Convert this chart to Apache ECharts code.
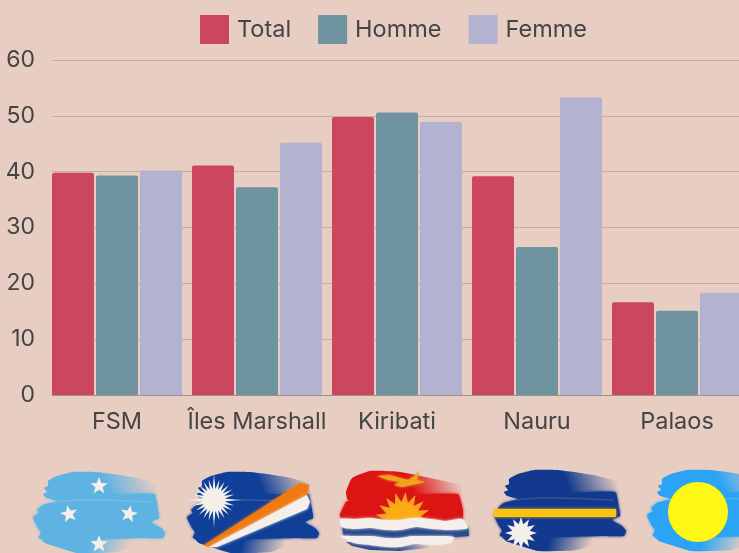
<!DOCTYPE html>
<html>
<head>
<meta charset="utf-8">
<script src="https://cdn.jsdelivr.net/npm/echarts@6/dist/echarts.min.js"></script>
<style>
  html, body { margin: 0; padding: 0; background: #e7cdc2; overflow: hidden; }
  #chart { width: 739px; height: 553px; }
</style>
</head>
<body>
<div id="chart"></div>
<script>
const categories = ['FSM', 'Îles Marshall', 'Kiribati', 'Nauru', 'Palaos']
const total = [39.8, 41.1, 49.8, 39.2, 16.6]
const homme = [39.3, 37.2, 50.6, 26.5, 15.1]
const femme = [40.2, 45.2, 48.9, 53.3, 18.3]
const yTicks = { min: 0, max: 60, interval: 10 }

const textColor = '#454545'
const fontFamily = 'Inter, "Noto Sans", sans-serif'

// pinceau commun aux drapeaux : trois bandes
const brushTop = [[13, 26], [10, 22], [14, 20], [11, 16], [15, 14], [15, 9], [24, 4], [40, 0], [62, 0], [80, 2], [104, 6], [124, 12], [122, 16], [125, 24], [40, 32]]
const brushMid = [[0, 45], [6, 41], [4, 38], [10, 33], [24, 29], [60, 24], [121, 22], [125, 38], [126, 46], [118, 50], [128, 56], [132, 61], [130, 66], [108, 66], [30, 68], [6, 66], [8, 60], [5, 56], [3, 52]]
const brushBot = [[6, 64], [112, 63], [108, 70], [84, 80], [44, 81], [24, 75], [12, 71]]

const fade = (color, x, y, x2, y2) => ({
  type: 'linear', x, y, x2, y2,
  colorStops: [{ offset: 0, color }, { offset: 0.45, color }, { offset: 1, color: color + '00' }]
})

const poly = (points, fill, smooth) => ({
  type: 'polygon',
  shape: { points, smooth: smooth || 0 },
  style: { fill, shadowBlur: 3, shadowColor: fill.length === 7 ? fill : 'transparent' }
})

const brush = (color) => [
  poly(brushTop, fade(color, 0.25, 1, 0.95, 0), 0.15),
  poly(brushMid, color, 0.15),
  poly(brushBot, fade(color, 0.15, 0, 0.85, 1), 0.15),
  { type: 'polyline', shape: { points: [[12, 31], [50, 28], [120, 30]], smooth: 0.4 }, style: { stroke: 'rgba(255,255,255,0.14)', lineWidth: 1.5, fill: null } }
]

const star = (cx, cy, n, r1, r2, fill, rot) => {
  const pts = []
  for (let i = 0; i < n * 2; i++) {
    const a = (rot || 0) - Math.PI / 2 + (i * Math.PI) / n
    const r = i % 2 ? r2 : r1
    pts.push([cx + r * Math.cos(a), cy + r * Math.sin(a)])
  }
  return { type: 'polygon', shape: { points: pts }, style: { fill } }
}

const white = '#f5efec'

const fsmFlag = [
  ...brush('#5fb3e3'),
  star(66, 14, 5, 9, 3.8, white),
  star(36, 42, 5, 9, 3.8, white, -0.2),
  star(96, 42, 5, 9, 3.8, white, 0.2),
  star(66, 72, 5, 9, 3.8, white)
]

const marshallFlag = [
  ...brush('#103f97'),
  poly([[17, 73], [113, 11], [122, 13], [120, 23], [22, 75]], '#ef7a12'),
  poly([[22, 75], [120, 23], [123, 30], [120, 37], [30, 75]], white),
  star(27, 28, 24, 21, 11, white),
  star(27, 28, 4, 28, 2, white),
  { type: 'circle', shape: { cx: 27, cy: 28, r: 11 }, style: { fill: white } }
]

const kiribatiFlag = [
  poly([[6, 22], [12, 8], [30, 1], [60, 2], [90, 8], [122, 16], [120, 30], [8, 30]], fade('#dd1414', 0.25, 1, 0.95, 0), 0.15),
  poly([[0, 45], [6, 32], [20, 26], [118, 24], [123, 40], [122, 52], [3, 52]], '#dd1414', 0.1),
  star(63, 50, 17, 28, 18, '#f3a31c', Math.PI / 2),
  { type: 'circle', shape: { cx: 63, cy: 50, r: 17 }, style: { fill: '#fbab14' } },
  poly([[2, 56], [128, 56], [129, 66], [100, 68], [20, 70], [4, 68]], '#2a4a8c'),
  poly([[6, 72], [100, 70], [88, 78], [60, 81], [30, 80], [12, 76]], fade('#2a4a8c', 0.3, 0, 0.9, 1)),
  poly([[0, 49], [14, 49], [30, 48], [46, 50], [60, 50], [74, 48], [92, 49], [106, 51], [122, 49], [128, 58], [110, 60], [92, 59], [76, 57], [60, 60], [46, 60], [30, 58], [14, 59], [2, 57]], white, 0.2),
  poly([[0, 66], [16, 66], [32, 66], [46, 68], [60, 68], [72, 66], [88, 66], [102, 66], [114, 67], [110, 73], [92, 75], [74, 74], [60, 77], [46, 77], [30, 75], [14, 73]], white, 0.2),
  poly([[37, 6], [50, 5], [60, 8], [68, 10], [76, 5], [79, 1], [77, 10], [85, 12], [72, 15], [62, 17], [54, 15], [60, 12], [48, 10]], '#eea21e')
]

const nauruFlag = [
  ...brush('#12398e'),
  poly([[0, 39], [122, 39], [122, 47], [0, 47]], '#fdc111'),
  star(27, 63, 12, 16, 9, white)
]

const palauFlag = [
  ...brush('#2ba4f5'),
  { type: 'circle', shape: { cx: 51, cy: 42, r: 30 }, style: { fill: '#fff714' } }
]

const flag = (x, y, children) => ({ type: 'group', x, y, silent: true, children })

const chart = echarts.init(document.getElementById('chart'))

const barSeries = (name, data, color) => ({
  name,
  type: 'bar',
  xAxisIndex: 1,
  yAxisIndex: 1,
  data,
  barWidth: 42,
  barGap: '4.8%',
  itemStyle: { color, borderRadius: [2, 2, 0, 0] }
})

chart.setOption({
  backgroundColor: '#e7cdc2',
  animation: false,
  textStyle: { fontFamily },
  legend: {
    left: 195,
    top: 10,
    itemWidth: 29,
    itemHeight: 29,
    itemGap: 27,
    icon: 'rect',
    selectedMode: false,
    textStyle: { color: textColor, fontSize: 23.5, padding: [2, 0, 0, 3], fontFamily }
  },
  // la grille 0 porte l'axe Y et les lignes, la grille 1 porte les barres (décalée de 5px)
  grid: [
    { left: 52, top: 60, width: 700, height: 335, outerBoundsMode: 'none' },
    { left: 47, top: 60, width: 700, height: 335, outerBoundsMode: 'none' }
  ],
  xAxis: [
    {
      type: 'category', gridIndex: 0, data: categories,
      axisLine: { lineStyle: { color: '#9d928b', width: 1 } },
      axisTick: { show: false },
      axisLabel: { show: false }
    },
    {
      type: 'category', gridIndex: 1, data: categories,
      axisLine: { show: false },
      axisTick: { show: false },
      axisLabel: { color: textColor, fontSize: 23.5, margin: 15, interval: 0, fontFamily }
    }
  ],
  yAxis: [
    {
      type: 'value', gridIndex: 0, ...yTicks,
      axisLine: { show: false },
      axisTick: { show: false },
      axisLabel: { color: textColor, fontSize: 23, margin: 17, padding: [2, 0, 0, 0], fontFamily },
      splitLine: { lineStyle: { color: '#c5aca1', width: 1 } }
    },
    {
      type: 'value', gridIndex: 1, ...yTicks,
      axisLine: { show: false },
      axisTick: { show: false },
      axisLabel: { show: false },
      splitLine: { show: false }
    }
  ],
  series: [
    barSeries('Total', total, '#cd4661'),
    barSeries('Homme', homme, '#6f949f'),
    barSeries('Femme', femme, '#b3b2d0')
  ],
  graphic: [
    flag(33, 472, fsmFlag),
    flag(187, 472, marshallFlag),
    flag(340, 470, kiribatiFlag),
    flag(494, 470, nauruFlag),
    flag(647, 470, palauFlag)
  ]
})
</script>
</body>
</html>
